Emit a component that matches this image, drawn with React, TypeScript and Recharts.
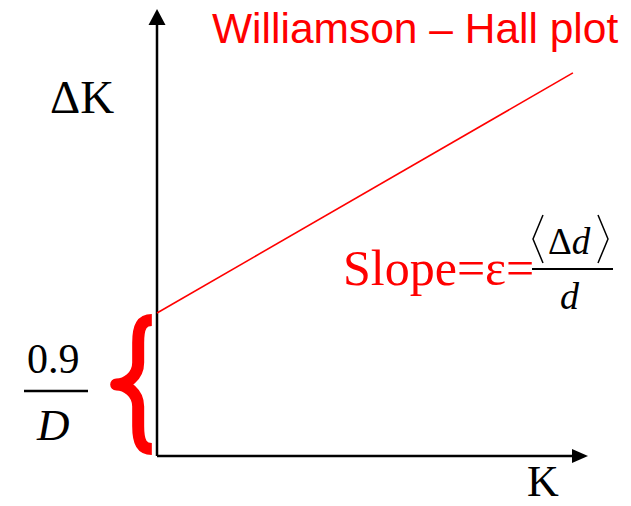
import React from 'react';
import { LineChart, Line, XAxis, YAxis, ReferenceLine, ReferenceDot, ReferenceArea } from 'recharts';

// K values and the matching line broadening ΔK (axis units 0..1)
const kValues = [0, 0.965];
const deltaK = [0.32, 0.857];

const lineData = kValues.map((k, i) => ({ k, dk: deltaK[i] }));
const intercept = deltaK[0];

const RED = '#ff0000';
const SERIF = '"Liberation Serif", "Times New Roman", serif';
const SANS = '"Liberation Sans", Arial, sans-serif';

const UpArrow = (props: any) => {
  const { cx, cy } = props;
  return <path d={`M${cx},${cy} L${cx - 8.5},${cy + 16} L${cx + 8.5},${cy + 16} Z`} fill="#000" />;
};

const RightArrow = (props: any) => {
  const { cx, cy } = props;
  return <path d={`M${cx},${cy} L${cx - 16},${cy - 7} L${cx - 16},${cy + 7} Z`} fill="#000" />;
};

// curly brace spanning the intercept, drawn in the box the area gives us
const Brace = (props: any) => {
  const { x, y, width: w, height: h } = props;
  const arm = x + 26;
  const mid = y + h / 2;
  const d = [
    `M${x + w},${y + 7}`,
    `C${arm + 4},${y + 7} ${arm},${y + 13} ${arm},${y + 30}`,
    `L${arm},${mid - 22}`,
    `C${arm},${mid - 8} ${x + 14},${mid} ${x + 4},${mid}`,
    `C${x + 14},${mid} ${arm},${mid + 8} ${arm},${mid + 22}`,
    `L${arm},${y + h - 30}`,
    `C${arm},${y + h - 13} ${arm + 4},${y + h - 7} ${x + w},${y + h - 7}`,
  ].join(' ');
  return <path d={d} fill="none" stroke={RED} strokeWidth={12} strokeLinejoin="round" />;
};

export default function App() {
  return (
    <div style={{ position: 'absolute', left: 0, top: 0, width: 631, height: 506, background: '#fff' }}>
      <LineChart
        width={631}
        height={506}
        data={lineData}
        margin={{ top: 9, right: 43, bottom: 50, left: 157 }}
      >
        <XAxis type="number" dataKey="k" domain={[0, 1]} hide />
        <YAxis type="number" domain={[0, 1]} hide />
        <ReferenceArea
          x1={-0.104}
          x2={-0.012}
          y1={0}
          y2={intercept}
          ifOverflow="visible"
          shape={<Brace />}
        />
        <ReferenceLine segment={[{ x: 0, y: 0 }, { x: 0.98, y: 0 }]} stroke="#000" strokeWidth={2.5} ifOverflow="visible" />
        <ReferenceLine segment={[{ x: 0, y: 0 }, { x: 0, y: 0.98 }]} stroke="#000" strokeWidth={2.5} ifOverflow="visible" />
        <ReferenceDot x={0} y={1} r={1} shape={<UpArrow />} ifOverflow="visible" />
        <ReferenceDot x={1} y={0} r={1} shape={<RightArrow />} ifOverflow="visible" />
        <Line
          type="linear"
          dataKey="dk"
          stroke={RED}
          strokeWidth={1.6}
          dot={false}
          isAnimationActive={false}
        />
      </LineChart>
      <svg
        width={631}
        height={506}
        style={{ position: 'absolute', left: 0, top: 0, pointerEvents: 'none' }}
      >
        <text x={212} y={43} fontSize={42.5} fontFamily={SANS} fill={RED}>
          Williamson – Hall plot
        </text>
        <text x={50} y={113} fontSize={47} fontFamily={SERIF} fill="#000">ΔK</text>
        <text x={527} y={496} fontSize={44} fontFamily={SERIF} fill="#000">K</text>

        {/* 0.9 / D */}
        <text x={27} y={373} fontSize={42} fontFamily={SERIF} fill="#000">0.9</text>
        <line x1={24} x2={88} y1={391} y2={391} stroke="#000" strokeWidth={2.5} />
        <text x={37} y={440} fontSize={45} fontFamily={SERIF} fontStyle="italic" fill="#000">D</text>

        {/* Slope = ε = <Δd>/d */}
        <text x={343} y={285} fontSize={50} fontFamily={SERIF} fill={RED}>Slope=ε=</text>
        <polyline points="543,215 533,239 543,263" fill="none" stroke="#000" strokeWidth={1.5} />
        <polyline points="598,215 608,239 598,263" fill="none" stroke="#000" strokeWidth={1.5} />
        <text x={548} y={254} fontSize={37} fontFamily={SERIF} fill="#000">
          Δ<tspan fontStyle="italic">d</tspan>
        </text>
        <line x1={532} x2={613} y1={269} y2={269} stroke="#000" strokeWidth={2} />
        <text x={560} y={309} fontSize={38} fontFamily={SERIF} fontStyle="italic" fill="#000">d</text>
      </svg>
    </div>
  );
}
